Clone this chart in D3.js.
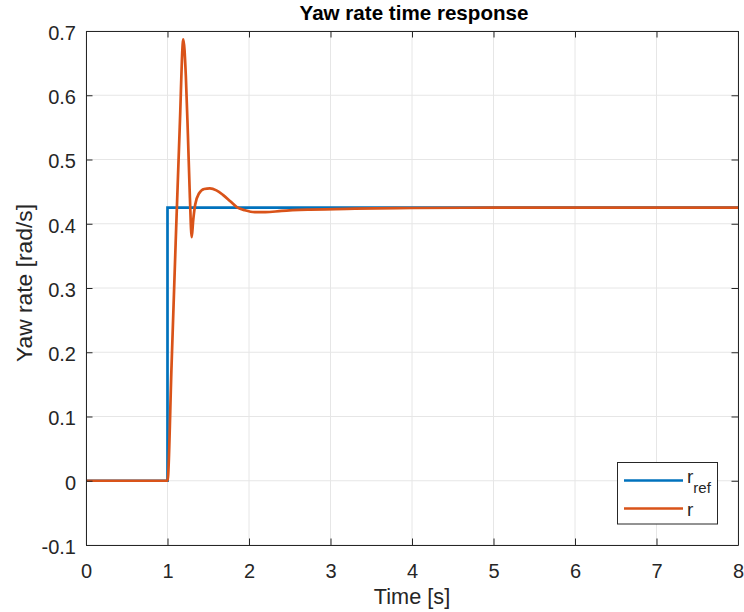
<!DOCTYPE html>
<html>
<head>
<meta charset="utf-8">
<script src="https://cdn.jsdelivr.net/npm/d3@7"></script>
<style>
  body { margin: 0; background: #fff; }
  text { font-family: "Liberation Sans", Arial, Helvetica, sans-serif; fill: #262626; }
</style>
</head>
<body>
<div id="chart"></div>
<script>
// data
let xTicks = [0, 1, 2, 3, 4, 5, 6, 7, 8];
let yTicks = [-0.1, 0, 0.1, 0.2, 0.3, 0.4, 0.5, 0.6, 0.7];

// reference step
let refTime = [0, 1, 1, 8];
let refVal = [0, 0, 0.425, 0.425];

// yaw rate response
let rTime = [0, 1.0, 1.05, 1.1, 1.15, 1.194, 1.225, 1.25, 1.275, 1.297, 1.315, 1.34, 1.386, 1.45, 1.52, 1.6, 1.68, 1.77, 1.85, 1.95, 2.07, 2.2, 2.4, 2.75, 3.3, 4.0, 5.0, 8.0];
let rVal  = [0, 0, 0.18, 0.37, 0.55, 0.687, 0.63, 0.54, 0.44, 0.379, 0.405, 0.43, 0.447, 0.454, 0.455, 0.452, 0.445, 0.435, 0.426, 0.421, 0.418, 0.418, 0.42, 0.422, 0.4235, 0.4245, 0.425, 0.425];

let width = 744, height = 612;
let padL = 86, padR = 738, padT = 31, padB = 545;

let svg = d3.select("#chart").append("svg")
  .attr("width", width).attr("height", height);

let x = d3.scaleLinear().domain([0, 8]).range([padL, padR]);
let y = d3.scaleLinear().domain([-0.1, 0.7]).range([padB, padT]);

// grid
let grid = svg.append("g");
grid.selectAll(".gx").data(xTicks).enter().append("line")
  .attr("x1", d => x(d)).attr("x2", d => x(d))
  .attr("y1", padT).attr("y2", padB)
  .attr("stroke", "#e6e6e6").attr("stroke-width", 1);
grid.selectAll(".gy").data(yTicks).enter().append("line")
  .attr("y1", d => y(d)).attr("y2", d => y(d))
  .attr("x1", padL).attr("x2", padR)
  .attr("stroke", "#e6e6e6").attr("stroke-width", 1);

// lines
let refData = refTime.map((t, i) => [t, refVal[i]]);
let rData = rTime.map((t, i) => [t, rVal[i]]);

svg.append("path")
  .attr("d", d3.line().x(d => x(d[0])).y(d => y(d[1]))(refData))
  .attr("fill", "none").attr("stroke", "#0072BD").attr("stroke-width", 2.7);

svg.append("path")
  .attr("d", d3.line().x(d => x(d[0])).y(d => y(d[1])).curve(d3.curveMonotoneX)(rData))
  .attr("fill", "none").attr("stroke", "#D95319").attr("stroke-width", 2.7)
  .attr("stroke-linejoin", "round");

// axes: bottom & left with labels, top & right tick-only (box on)
let tickLen = 6.5;
svg.append("g").attr("transform", "translate(0," + padB + ")")
  .call(d3.axisBottom(x).tickValues(xTicks).tickSizeInner(-tickLen).tickSizeOuter(0).tickPadding(18.5).tickFormat(d3.format("d")))
  .call(g => g.selectAll("text").attr("font-size", 20))
  .call(g => g.selectAll("line, path").attr("stroke", "#262626"));
svg.append("g").attr("transform", "translate(" + padL + ",0)")
  .call(d3.axisLeft(y).tickValues(yTicks).tickSizeInner(-tickLen).tickSizeOuter(0).tickPadding(10).tickFormat(d => String(+d.toFixed(1))))
  .call(g => g.selectAll("text").attr("font-size", 20).attr("dy", "0.42em"))
  .call(g => g.selectAll("line, path").attr("stroke", "#262626"));
svg.append("g").attr("transform", "translate(0," + padT + ")")
  .call(d3.axisTop(x).tickValues(xTicks).tickSizeInner(-tickLen).tickSizeOuter(0).tickFormat(""))
  .call(g => g.selectAll("line, path").attr("stroke", "#262626"));
svg.append("g").attr("transform", "translate(" + padR + ",0)")
  .call(d3.axisRight(y).tickValues(yTicks).tickSizeInner(-tickLen).tickSizeOuter(0).tickFormat(""))
  .call(g => g.selectAll("line, path").attr("stroke", "#262626"));

// titles
svg.append("text").attr("x", 414).attr("y", 20)
  .attr("text-anchor", "middle").attr("font-size", 20.6).attr("font-weight", "bold")
  .style("fill", "#000").text("Yaw rate time response");
svg.append("text").attr("x", 412).attr("y", 603.5)
  .attr("text-anchor", "middle").attr("font-size", 21.7).text("Time [s]");
svg.append("text").attr("transform", "translate(32,283) rotate(-90)")
  .attr("text-anchor", "middle").attr("font-size", 22.8).text("Yaw rate [rad/s]");

// legend
let legend = svg.append("g");
legend.append("rect").attr("x", 617.5).attr("y", 462.5).attr("width", 100).attr("height", 61.5)
  .attr("fill", "#fff").attr("stroke", "#262626").attr("stroke-width", 1);
let legItems = [
  { color: "#0072BD", y: 480.5, base: 483.3, label: "r", sub: "ref" },
  { color: "#D95319", y: 508.5, base: 516, label: "r", sub: "" }
];
legItems.forEach(function(d) {
  legend.append("line").attr("x1", 624).attr("x2", 683).attr("y1", d.y).attr("y2", d.y)
    .attr("stroke", d.color).attr("stroke-width", 2.7);
  let t = legend.append("text").attr("x", 687).attr("y", d.base).attr("font-size", 19);
  t.append("tspan").text(d.label);
  if (d.sub) t.append("tspan").attr("dy", 9.4).attr("font-size", 15).text(d.sub);
});
</script>
</body>
</html>
